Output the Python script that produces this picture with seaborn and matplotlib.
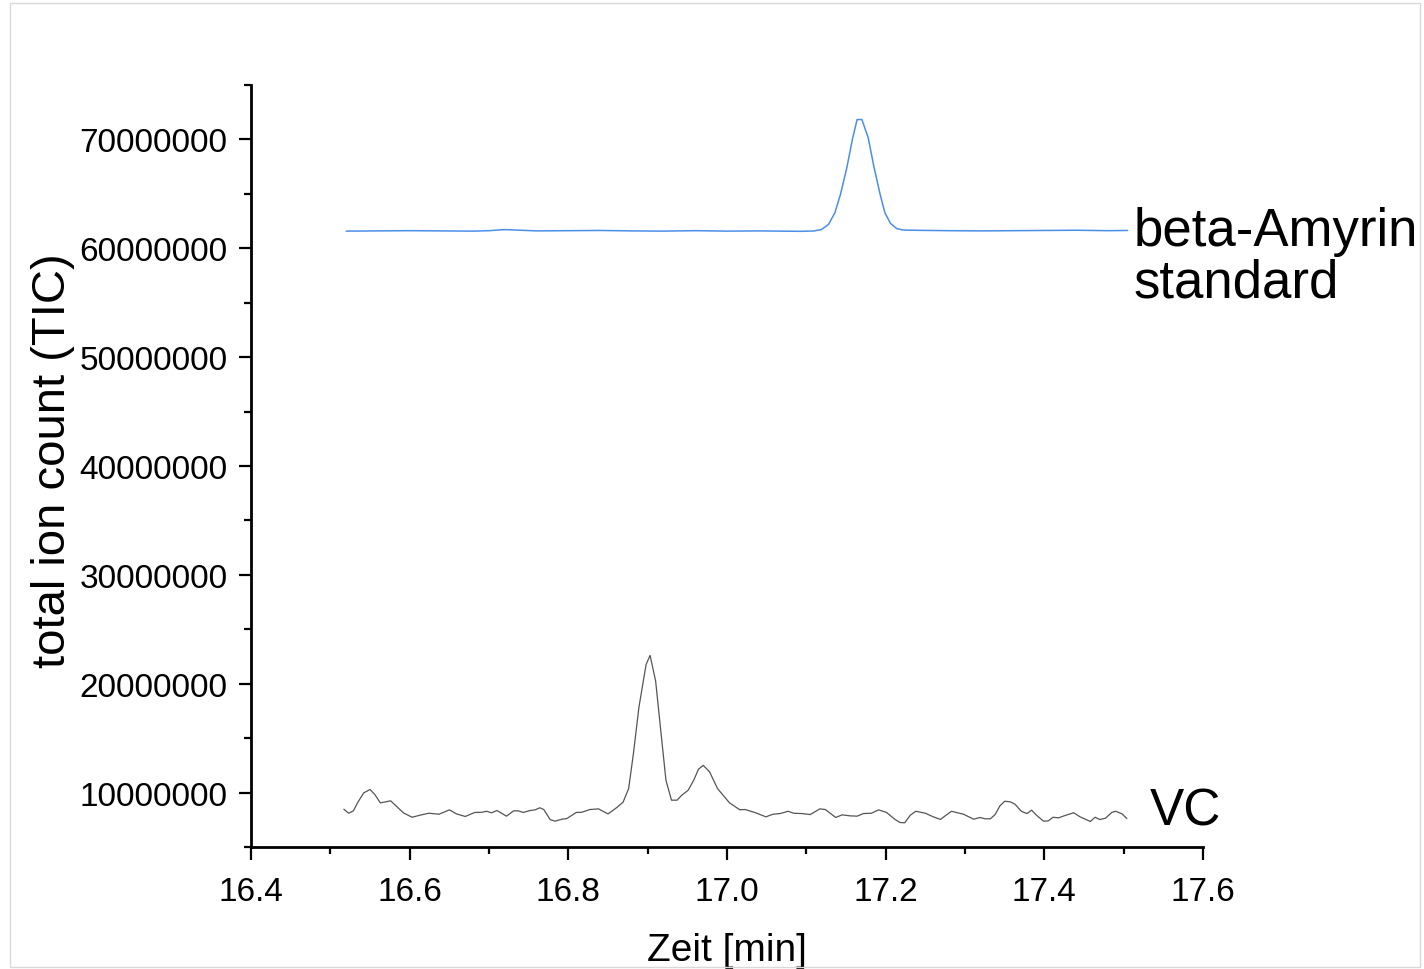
import numpy as np
import pandas as pd
import matplotlib
matplotlib.use("Agg")
import matplotlib.pyplot as plt
import matplotlib.ticker as mticker
from matplotlib.patches import Rectangle
import seaborn as sns

# retention time [min] and TIC (in millions)
vc_time = [16.517, 16.523, 16.529, 16.535, 16.542, 16.550, 16.556, 16.563, 16.576, 16.584,
           16.592, 16.603, 16.613, 16.624, 16.637, 16.650, 16.659, 16.670, 16.682, 16.691,
           16.697, 16.703, 16.710, 16.722, 16.731, 16.737, 16.743, 16.752, 16.758, 16.764,
           16.769, 16.777, 16.783, 16.792, 16.798, 16.810, 16.817, 16.827, 16.838, 16.850,
           16.861, 16.869, 16.876, 16.882, 16.889, 16.898, 16.903, 16.910, 16.916, 16.923,
           16.930, 16.937, 16.943, 16.951, 16.958, 16.964, 16.970, 16.978, 16.988, 16.995,
           17.003, 17.016, 17.023, 17.035, 17.049, 17.058, 17.067, 17.077, 17.084, 17.094,
           17.105, 17.117, 17.124, 17.137, 17.145, 17.155, 17.164, 17.172, 17.182, 17.191,
           17.201, 17.212, 17.218, 17.224, 17.231, 17.238, 17.250, 17.260, 17.269, 17.275,
           17.283, 17.298, 17.311, 17.319, 17.325, 17.332, 17.338, 17.344, 17.350, 17.357,
           17.363, 17.371, 17.378, 17.384, 17.390, 17.399, 17.405, 17.411, 17.418, 17.426,
           17.437, 17.445, 17.458, 17.464, 17.470, 17.477, 17.485, 17.490, 17.498, 17.504]
vc_tic = [8.47, 8.10, 8.32, 9.15, 9.97, 10.28, 9.82, 9.05, 9.24, 8.69,
          8.14, 7.73, 7.92, 8.10, 8.01, 8.41, 8.04, 7.80, 8.17, 8.19,
          8.28, 8.14, 8.35, 7.83, 8.32, 8.32, 8.17, 8.35, 8.41, 8.60,
          8.44, 7.52, 7.37, 7.55, 7.61, 8.17, 8.19, 8.44, 8.50, 8.04,
          8.62, 9.12, 10.37, 13.58, 17.86, 21.77, 22.60, 20.25, 16.03, 11.13,
          9.30, 9.30, 9.76, 10.21, 11.13, 12.14, 12.50, 11.90, 10.37, 9.76,
          9.06, 8.42, 8.44, 8.17, 7.77, 8.01, 8.07, 8.28, 8.10, 8.07,
          7.98, 8.50, 8.44, 7.71, 7.95, 7.86, 7.83, 8.07, 8.10, 8.41,
          8.17, 7.52, 7.25, 7.22, 7.92, 8.28, 8.10, 7.77, 7.53, 7.86,
          8.28, 8.01, 7.55, 7.71, 7.59, 7.59, 7.98, 8.78, 9.20, 9.15,
          8.93, 8.28, 8.07, 8.38, 7.92, 7.37, 7.40, 7.73, 7.68, 7.89,
          8.14, 7.77, 7.34, 7.73, 7.52, 7.64, 8.17, 8.28, 8.04, 7.61]

amyrin_time = [16.52, 16.56, 16.60, 16.64, 16.68, 16.70, 16.72, 16.74, 16.76, 16.80,
               16.84, 16.88, 16.92, 16.96, 17.00, 17.04, 17.08, 17.092, 17.109, 17.119,
               17.128, 17.136, 17.143, 17.151, 17.158, 17.164, 17.170, 17.178, 17.185, 17.193,
               17.199, 17.206, 17.214, 17.222, 17.243, 17.28, 17.32, 17.36, 17.40, 17.44,
               17.48, 17.505]
amyrin_tic = [61.58, 61.60, 61.62, 61.60, 61.58, 61.62, 61.72, 61.66, 61.60, 61.62,
              61.64, 61.60, 61.58, 61.62, 61.58, 61.60, 61.57, 61.56, 61.59, 61.72,
              62.20, 63.27, 64.95, 67.40, 70.00, 71.83, 71.83, 70.15, 67.55, 64.95,
              63.27, 62.29, 61.81, 61.68, 61.65, 61.62, 61.60, 61.62, 61.64, 61.66,
              61.62, 61.64]

x_ticks = [16.4, 16.6, 16.8, 17.0, 17.2, 17.4, 17.6]
y_ticks = [10000000, 20000000, 30000000, 40000000, 50000000, 60000000, 70000000]

vc = pd.DataFrame({"time": vc_time, "tic": np.array(vc_tic) * 1e6})
amyrin = pd.DataFrame({"time": amyrin_time, "tic": np.array(amyrin_tic) * 1e6})

sns.set_style("ticks")
plt.rcParams["font.family"] = ["Liberation Sans", "DejaVu Sans"]
plt.rcParams["text.color"] = "black"
plt.rcParams["axes.labelcolor"] = "black"
plt.rcParams["xtick.labelcolor"] = "black"
plt.rcParams["ytick.labelcolor"] = "black"

fig = plt.figure(figsize=(14.24, 9.70), dpi=100)
ax = fig.add_axes([0.1763, 0.1258, 0.6685, 0.7855])

sns.lineplot(data=amyrin, x="time", y="tic", ax=ax, color="#4a8fe6", linewidth=1.1)
sns.lineplot(data=vc, x="time", y="tic", ax=ax, color="#555555", linewidth=0.9)

ax.set_xlim(16.4, 17.6)
ax.set_ylim(5e6, 75e6)
ax.set_xticks(x_ticks)
ax.set_yticks(y_ticks)
ax.xaxis.set_minor_locator(mticker.MultipleLocator(0.1))
ax.yaxis.set_minor_locator(mticker.MultipleLocator(5e6))
ax.xaxis.set_major_formatter(mticker.FormatStrFormatter("%.1f"))
ax.yaxis.set_major_formatter(mticker.FormatStrFormatter("%d"))

sns.despine(ax=ax)
for s in ["left", "bottom"]:
    ax.spines[s].set_linewidth(2.0)
    ax.spines[s].set_color("black")
ax.tick_params(which="major", direction="out", length=9, width=1.6,
               labelsize=24, color="black")
ax.tick_params(axis="y", which="major", pad=8)
ax.tick_params(axis="x", which="major", pad=12)
ax.tick_params(which="minor", direction="out", length=5, width=1.6, color="black")

ax.set_xlabel("Zeit [min]", fontsize=28, labelpad=18)
ax.set_ylabel("total ion count (TIC)", fontsize=34, labelpad=8)
ax.yaxis.set_label_coords(-0.185, 0.508)

ax.text(17.512, 59.2e6, "beta-Amyrin\nstandard", fontsize=38, ha="left",
        va="center", linespacing=1.03)
ax.text(17.533, 8.3e6, "VC", fontsize=37, ha="left", va="center")

fig.patches.append(Rectangle((10 / 1424, 2 / 970), 1410 / 1424, 964 / 970,
                             transform=fig.transFigure, fill=False,
                             edgecolor="#d9d9d9", linewidth=1.0))

fig.savefig("out.png", dpi=100)
